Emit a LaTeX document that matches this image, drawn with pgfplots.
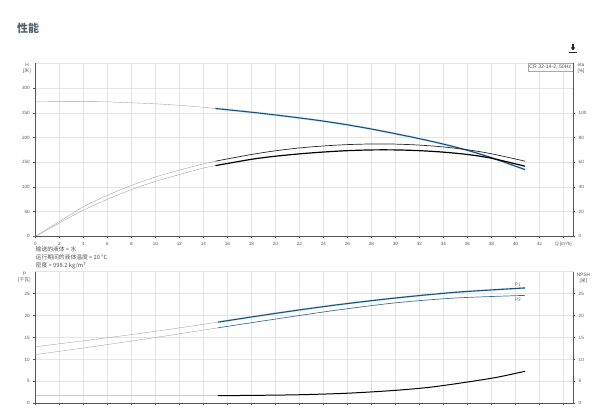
\documentclass[border=0pt]{standalone}
\usepackage{fontspec}
\setmainfont{Liberation Sans}
\newfontfamily\cjk{Noto Sans CJK SC}
\usepackage{pgfplots}
\pgfplotsset{compat=1.18}
\usetikzlibrary{arrows.meta}

\definecolor{gridc}{HTML}{E4E4E4}
\definecolor{axc}{HTML}{555555}
\definecolor{txt}{HTML}{555555}
\definecolor{hblue}{HTML}{1F4E7A}
\definecolor{pblue}{HTML}{3E6E9E}
\definecolor{glow}{HTML}{D2ECF8}
\definecolor{curgray}{HTML}{A8A8A8}
\definecolor{lblue}{HTML}{5A86B0}
\definecolor{titlec}{HTML}{56616B}

\pgfplotsset{base/.style={
  scale only axis, width=537.5pt, xmin=0, xmax=44.8,
  axis line style={gridc}, grid=major, grid style={gridc, line width=0.4pt},
  tick style={axc, line width=0.4pt}, major tick length=2.2pt, tick align=outside,
  ticklabel style={font=\fontsize{4.6}{5}\selectfont, text=txt},
  /pgf/number format/assume math mode=true,
  xtick={0,2,...,44}, xtick pos=bottom, ytick pos=left,
  clip=false},
 rax/.style={
  scale only axis, width=537.5pt, xmin=0, xmax=44.8,
  axis x line=none, axis y line*=right, axis line style={axc, line width=0.5pt},
  tick style={axc, line width=0.4pt}, major tick length=2.2pt, tick align=outside,
  ticklabel style={font=\fontsize{4.6}{5}\selectfont, text=txt},
  /pgf/number format/assume math mode=true, clip=false}
}

\begin{document}
\begin{tikzpicture}[x=1pt,y=1pt]

% ---------- top chart ----------
\begin{axis}[base, at={(35.5pt,183.7pt)}, anchor=south west, height=173pt,
  ymin=0, ymax=350, ytick={0,50,...,300},
  xticklabels={0,2,4,6,8,10,12,14,16,18,20,22,24,26,28,30,32,34,36,38,40,42,{Q [m³/h]}}]
\draw[axc, line width=0.5pt] (rel axis cs:0,1) -- (rel axis cs:0,0) -- (rel axis cs:1,0);
\addplot[curgray, line width=0.4pt, smooth] coordinates {(0,272)(2,272.5)(4,272.5)(6,272)(8,270)(10,268)(12,265)(14,261)(15,258.5)};
\addplot[glow, line width=2.4pt, smooth] coordinates {(15,258.5)(18,251)(20,245.5)(22,239.5)(24,233)(26,225.5)(28,217)(30,207.5)(32,197.5)(34,186.5)(36,174)(38,159)(40.8,135)};
\addplot[hblue, line width=1.1pt, smooth] coordinates {(15,258.5)(18,251)(20,245.5)(22,239.5)(24,233)(26,225.5)(28,217)(30,207.5)(32,197.5)(34,186.5)(36,174)(38,159)(40.8,135)};
\node[draw=curgray, fill=white, line width=0.4pt, anchor=north east, inner sep=1.6pt,
  font=\fontsize{5.2}{6}\selectfont, text=txt] at (rel axis cs:1,1) {CR 32-14-2, 50Hz};
\end{axis}

\begin{axis}[rax, at={(35.5pt,183.7pt)}, anchor=south west, height=173pt,
  ymin=0, ymax=140, ytick={0,20,...,100}]
\addplot[curgray, line width=0.4pt, smooth] coordinates {(0,0)(2,12)(4,24)(6,33.2)(8,41.2)(10,48)(12,53.6)(14,58.6)(15,60.8)};
\addplot[curgray, line width=0.4pt, smooth] coordinates {(0,0)(2,10.8)(4,21.2)(6,30)(8,37.8)(10,44.4)(12,50)(14,55.2)(15,57.2)};
\addplot[black!85, line width=0.7pt, smooth] coordinates {(15,60.8)(18,66.2)(20,69.2)(22,71.5)(24,73.1)(26,74.2)(28,74.7)(30,74.6)(32,73.8)(34,72.3)(36,70.0)(38,66.8)(40.8,60.8)};
\addplot[black, line width=1.2pt, smooth] coordinates {(15,57.2)(18,62.3)(20,64.8)(22,66.7)(24,68.2)(26,69.3)(28,69.9)(30,69.9)(32,69.3)(34,68.1)(36,66.2)(38,63.2)(40.8,56.7)};
\end{axis}

% ---------- bottom chart ----------
\begin{axis}[base, at={(35.5pt,16.7pt)}, anchor=south west, height=131.6pt,
  ymin=0, ymax=30, ytick={0,5,...,25}, xticklabels={}]
\draw[axc, line width=0.5pt] (rel axis cs:0,1) -- (rel axis cs:0,0) -- (rel axis cs:1,0);
\addplot[curgray, line width=0.4pt, smooth] coordinates {(0,12.9)(5,14.6)(10,16.4)(15.2,18.5)};
\addplot[curgray, line width=0.4pt, smooth] coordinates {(0,11.1)(5,13.0)(10,15.0)(15.2,17.2)};
\addplot[gridc!60!curgray, line width=0.4pt] coordinates {(0,1.75)(15.2,1.75)};
\addplot[glow, line width=2.2pt, smooth] coordinates {(15.2,18.5)(20,20.5)(25,22.4)(30,24.0)(35,25.3)(40.8,26.3)};
\addplot[hblue, line width=1.1pt, smooth] coordinates {(15.2,18.5)(20,20.5)(25,22.4)(30,24.0)(35,25.3)(40.8,26.3)};
\addplot[pblue, line width=0.7pt, smooth] coordinates {(15.2,17.2)(20,19.2)(25,21.2)(30,22.9)(35,24.0)(40.8,24.6)};
\addplot[black, line width=1.0pt, smooth] coordinates {(15.2,1.75)(18,1.8)(22,1.95)(26,2.3)(30,2.95)(33,3.7)(36,4.85)(38.5,5.95)(40.8,7.3)};
\node[font=\fontsize{5}{6}\selectfont, text=lblue] at (axis cs:40.2,27.1) {P1};
\node[font=\fontsize{5}{6}\selectfont, text=lblue] at (axis cs:40.2,23.5) {P2};
\end{axis}

\begin{axis}[rax, at={(35.5pt,16.7pt)}, anchor=south west, height=131.6pt,
  ymin=0, ymax=30, ytick={0,5,...,25}]
\end{axis}

% ---------- texts ----------
\node[anchor=west, font=\cjk\bfseries\fontsize{11}{12}\selectfont, text=titlec] at (13.5,392) {性能};
\draw[line width=1.3pt, -{Triangle[width=4.2pt,length=3pt]}, black!85] (573,375.5) -- (573,369.5);
\draw[line width=0.9pt, black!85] (569.3,367.6) -- (576.7,367.6);

\node[align=center, font=\fontsize{4.8}{6}\selectfont, text=txt, inner sep=0pt] at (27,351.3) {H\\{[\cjk 米]}};
\node[align=center, font=\fontsize{4.8}{6}\selectfont, text=txt, inner sep=0pt] at (581,351.3) {eta\\{[\%]}};
\node[align=center, font=\fontsize{4.8}{6}\selectfont, text=txt, inner sep=0pt] at (24.5,142.3) {P\\{[\cjk 千瓦]}};
\node[align=center, font=\fontsize{4.8}{6}\selectfont, text=txt, inner sep=0pt] at (583.5,141.7) {NPSH\\{[\cjk 米]}};

\node[anchor=west, align=left, font=\cjk\fontsize{5.8}{7.8}\selectfont, text=txt, inner sep=0pt] at (35.5,162.3)
  {输送的液体 = 水\\运行期间的液体温度 = 20 °C\\密度 = 998.2 kg/m³};

\pgfresetboundingbox
\useasboundingbox (0,0) rectangle (600,420);
\end{tikzpicture}
\end{document}
